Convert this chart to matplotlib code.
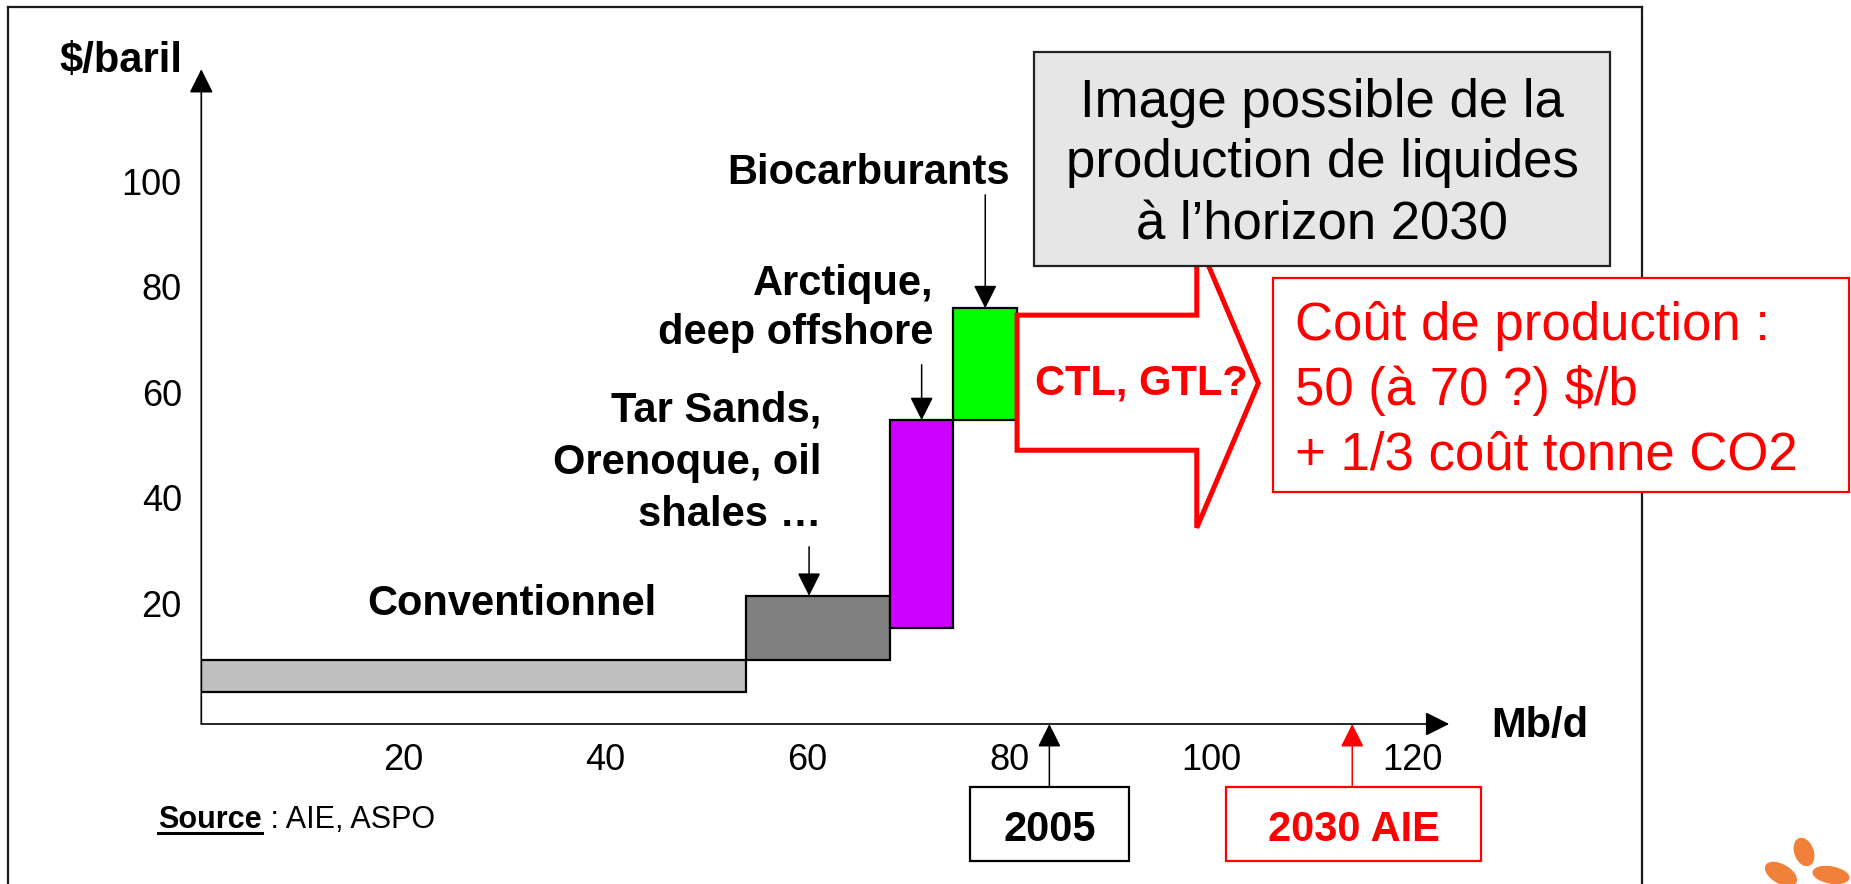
import matplotlib
matplotlib.use("Agg")
import matplotlib.pyplot as plt
from matplotlib.patches import Rectangle, Polygon, Ellipse
from matplotlib.lines import Line2D

plt.rcParams['font.family'] = ['Liberation Sans', 'DejaVu Sans']

# ---------------- data ----------------
segments = ["Conventionnel", "Tar Sands, Orenoque, oil shales", "Arctique, deep offshore", "Biocarburants"]
widths_mbd = [54.0, 14.2, 6.3, 6.3]          # Mb/d
cost_low = [3.1, 9.2, 15.4, 54.7]            # $/baril
cost_high = [9.2, 21.4, 54.7, 75.9]          # $/baril
bar_colors = ['#C0C0C0', '#808080', '#CC00FF', '#00FF00']
prod_2005 = 84.0
prod_2030_aie = 114.0
x_ticks = [20, 40, 60, 80, 100, 120]
y_ticks = [20, 40, 60, 80, 100]

W, H = 1851, 884
fig = plt.figure(figsize=(W / 100, H / 100), dpi=100)

# main axes (x=0 at px 201.3, x axis line at px 724)
x0_px, xaxis_px = 201.3, 724.0
ppu_x, ppu_y = 10.096, 5.277
ylim = (-2.88, 122.0)
xlim = (0.0, 128.0)
ax_h = (ylim[1] - ylim[0]) * ppu_y
ax_w = (xlim[1] - xlim[0]) * ppu_x
ax = fig.add_axes([x0_px / W, (H - xaxis_px) / H, ax_w / W, ax_h / H])
ax.set_xlim(*xlim)
ax.set_ylim(*ylim)
ax.patch.set_visible(False)
for s in ax.spines.values():
    s.set_visible(False)

# bars
lefts = [sum(widths_mbd[:i]) for i in range(len(widths_mbd))]
heights = [h - l for h, l in zip(cost_high, cost_low)]
ax.bar(lefts, heights, width=widths_mbd, bottom=cost_low, align='edge',
       color=bar_colors, edgecolor='black', linewidth=1.6, zorder=3)

# ticks
ax.set_xticks(x_ticks)
ax.set_xticklabels([str(v) for v in x_ticks])
ax.set_yticks(y_ticks)
ax.set_yticklabels([str(v) for v in y_ticks])
ax.tick_params(length=0, labelsize=26, pad=14)

# axis arrows
arrow_kw = dict(arrowstyle='-|>,head_length=0.4,head_width=0.2', color='black',
                lw=1.2, shrinkA=0, shrinkB=0, mutation_scale=37)
ax.annotate('', xy=(123.6, ylim[0]), xytext=(0, ylim[0]), arrowprops=arrow_kw,
            annotation_clip=False)
ax.annotate('', xy=(0, 121.2), xytext=(0, ylim[0]), arrowprops=arrow_kw,
            annotation_clip=False)

# pointer arrows to segments
small_kw = dict(arrowstyle='-|>,head_length=0.4,head_width=0.2', color='black',
                lw=1.1, shrinkA=0, shrinkB=0, mutation_scale=36)
ax.annotate('', xy=(60.2, cost_high[1]), xytext=(60.2, 30.7), arrowprops=small_kw)
ax.annotate('', xy=(lefts[2] + widths_mbd[2] / 2, cost_high[2]),
            xytext=(lefts[2] + widths_mbd[2] / 2, 65.2), arrowprops=small_kw)
ax.annotate('', xy=(lefts[3] + widths_mbd[3] / 2, cost_high[3]),
            xytext=(lefts[3] + widths_mbd[3] / 2, 97.4), arrowprops=small_kw,
            annotation_clip=False)

# 2005 / 2030 arrows from boxes
ax.annotate('', xy=(prod_2005, ylim[0]), xytext=(prod_2005, -14.8),
            arrowprops=small_kw, annotation_clip=False)
red_kw = dict(small_kw)
red_kw['color'] = '#FF0000'
ax.annotate('', xy=(prod_2030_aie, ylim[0]), xytext=(prod_2030_aie, -14.8),
            arrowprops=red_kw, annotation_clip=False)

# red block arrow (CTL, GTL?) starting at right edge of last bar
x_start = lefts[-1] + widths_mbd[-1]
block = [(x_start, 74.6), (98.6, 74.6), (98.6, 89.2), (104.7, 61.7),
         (98.6, 34.3), (98.6, 49.0), (x_start, 49.0)]
ax.add_patch(Polygon(block, closed=True, facecolor='white', edgecolor='#FF0000',
                     linewidth=3.6, joinstyle='miter', zorder=4, clip_on=False))
ax.text(x_start + 1.8, 61.7, 'CTL, GTL?', color='#FF0000', fontsize=30,
        fontweight='bold', va='center', ha='left', zorder=5)

# ---------------- overlay (pixel coords) ----------------
ov = fig.add_axes([0, 0, 1, 1])
ov.set_xlim(0, W)
ov.set_ylim(H, 0)
ov.axis('off')
ov.patch.set_visible(False)
ov.set_zorder(10)

# frame (drawn beneath the boxes)
for xs, ys in [((8, 1642), (7, 7)), ((8, 8), (7, 884)), ((1642, 1642), (7, 884))]:
    ov.add_line(Line2D(xs, ys, color='#1a1a1a', lw=1.6, zorder=0))

# axis titles
ov.text(182, 72, '$/baril', fontsize=30, fontweight='bold', ha='right', va='baseline')
ov.text(1491, 737, 'Mb/d', fontsize=30, fontweight='bold', ha='left', va='baseline')

# segment labels
ov.text(869, 184, 'Biocarburants', fontsize=30, fontweight='bold', ha='center', va='baseline')
ov.text(933, 295, 'Arctique,', fontsize=30, fontweight='bold', ha='right', va='baseline')
ov.text(933, 344, 'deep offshore', fontsize=30, fontweight='bold', ha='right', va='baseline')
ov.text(821, 422, 'Tar Sands,', fontsize=30, fontweight='bold', ha='right', va='baseline')
ov.text(821, 474, 'Orenoque, oil', fontsize=30, fontweight='bold', ha='right', va='baseline')
ov.text(821, 526, 'shales \u2026', fontsize=30, fontweight='bold', ha='right', va='baseline')
ov.text(367, 615, 'Conventionnel', fontsize=30, fontweight='bold', ha='left', va='baseline')

# gray title box
ov.add_patch(Rectangle((1034, 51.7), 1610 - 1034, 265.7 - 51.7, facecolor='#E6E6E6',
                       edgecolor='#222222', linewidth=1.6, zorder=2))
for txt, yb in [('Image possible de la', 116.7), ('production de liquides', 177.5),
                ('\u00e0 l\u2019horizon 2030', 239)]:
    ov.text(1322, yb, txt, fontsize=38, ha='center', va='baseline', color='black', zorder=3)

# red cost box
ov.add_patch(Rectangle((1273, 278.3), 1849 - 1273, 492.5 - 278.3, facecolor='white',
                       edgecolor='#FF0000', linewidth=1.6, zorder=2))
for txt, yb in [('Co\u00fbt de production :', 340), ('50 (\u00e0 70 ?) $/b', 405),
                ('+ 1/3 co\u00fbt tonne CO2', 470)]:
    ov.text(1295, yb, txt, fontsize=38, ha='left', va='baseline', color='#FF0000', zorder=3)

# year boxes
ov.add_patch(Rectangle((970, 787), 1129 - 970, 861 - 787, facecolor='white',
                       edgecolor='black', linewidth=1.6, zorder=2))
ov.text(1049.5, 841, '2005', fontsize=30, fontweight='bold', ha='center', va='baseline', zorder=3)
ov.add_patch(Rectangle((1226, 787), 1481 - 1226, 861 - 787, facecolor='white',
                       edgecolor='#FF0000', linewidth=1.6, zorder=2))
ov.text(1353.5, 841, '2030 AIE', fontsize=30, fontweight='bold', ha='center',
        va='baseline', color='#FF0000', zorder=3)

# source
t_src = ov.text(158, 828, 'Source', fontsize=22, fontweight='bold', ha='left', va='baseline')
fig.canvas.draw()
bb = t_src.get_window_extent()
inv = ov.transData.inverted()
(xa, _), (xb, _) = inv.transform([(bb.x0, bb.y0), (bb.x1, bb.y0)])
ov.add_line(Line2D((xa, xb), (833, 833), color='black', lw=2.2))
ov.text(xb, 828, ' : AIE, ASPO', fontsize=22, ha='left', va='baseline')

# small logo (decorative)
logo_c = '#F0803A'
ov.add_patch(Ellipse((1804, 852), 18, 28, angle=-20, color=logo_c))
ov.add_patch(Ellipse((1781, 874), 34, 18, angle=30, color=logo_c))
ov.add_patch(Ellipse((1831, 875), 36, 16, angle=10, color=logo_c))

fig.savefig('out.png', dpi=100)
